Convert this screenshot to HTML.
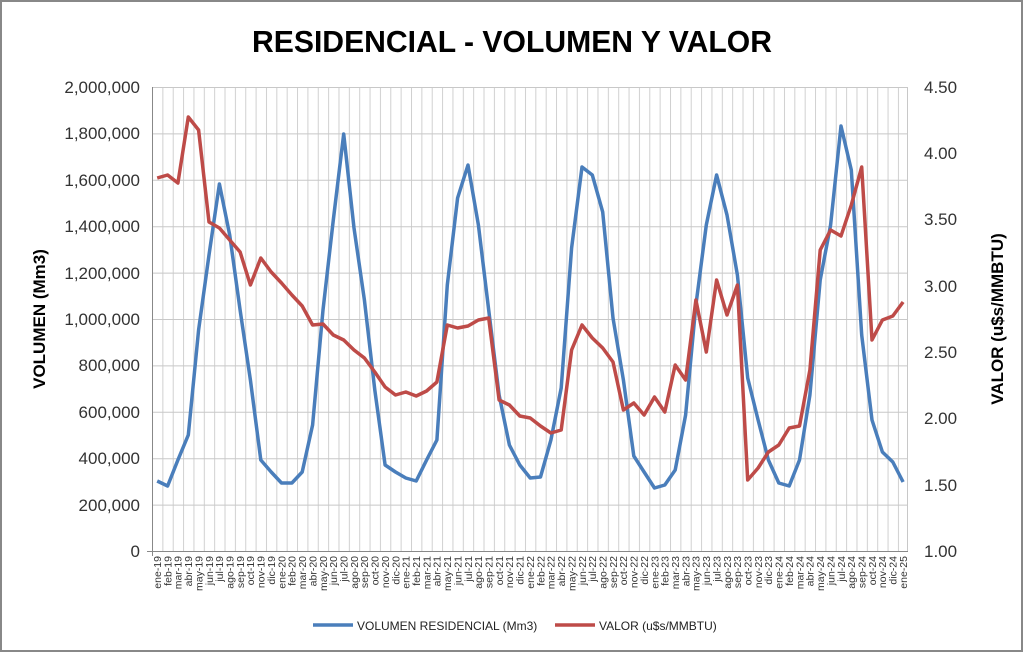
<!DOCTYPE html>
<html><head><meta charset="utf-8"><style>
html,body{margin:0;padding:0;background:#fff}
svg{display:block;font-family:"Liberation Sans",sans-serif}
</style></head><body>
<svg width="1023" height="652" viewBox="0 0 1023 652" xmlns="http://www.w3.org/2000/svg">
<defs>
<pattern id="vg" patternUnits="userSpaceOnUse" x="152" y="0" width="10.36" height="652">
<line x1="0.5" y1="0" x2="0.5" y2="652" stroke="#d0d0d0" stroke-width="1"/>
</pattern>
</defs>
<rect x="1" y="1" width="1021" height="650" fill="#fff" stroke="#888" stroke-width="2"/>
<text x="252" y="52" textLength="520" lengthAdjust="spacingAndGlyphs" font-size="31" font-weight="bold" fill="#000">RESIDENCIAL - VOLUMEN Y VALOR</text>
<rect x="152" y="87" width="756" height="464" fill="url(#vg)"/>
<g stroke="#c8c8c8" stroke-width="1">
<line x1="152" y1="87.5" x2="908" y2="87.5"/>
<line x1="152" y1="133.9" x2="908" y2="133.9"/>
<line x1="152" y1="180.3" x2="908" y2="180.3"/>
<line x1="152" y1="226.7" x2="908" y2="226.7"/>
<line x1="152" y1="273.1" x2="908" y2="273.1"/>
<line x1="152" y1="319.5" x2="908" y2="319.5"/>
<line x1="152" y1="365.9" x2="908" y2="365.9"/>
<line x1="152" y1="412.3" x2="908" y2="412.3"/>
<line x1="152" y1="458.7" x2="908" y2="458.7"/>
<line x1="152" y1="505.1" x2="908" y2="505.1"/>
<line x1="907.5" y1="87" x2="907.5" y2="551"/>
</g>
<line x1="152.5" y1="87" x2="152.5" y2="556" stroke="#888"/>
<line x1="147" y1="551.5" x2="908" y2="551.5" stroke="#888"/>
<g font-size="17" fill="#333" text-anchor="end">
<text x="140" y="93">2,000,000</text><text x="140" y="139">1,800,000</text><text x="140" y="186">1,600,000</text><text x="140" y="232">1,400,000</text><text x="140" y="279">1,200,000</text><text x="140" y="325">1,000,000</text><text x="140" y="371">800,000</text><text x="140" y="418">600,000</text><text x="140" y="464">400,000</text><text x="140" y="511">200,000</text><text x="140" y="557">0</text>
</g>
<g font-size="17" fill="#333" text-anchor="start">
<text x="924" y="93">4.50</text><text x="924" y="159">4.00</text><text x="924" y="225">3.50</text><text x="924" y="292">3.00</text><text x="924" y="358">2.50</text><text x="924" y="424">2.00</text><text x="924" y="491">1.50</text><text x="924" y="557">1.00</text>
</g>
<text transform="translate(45,319) rotate(-90)" text-anchor="middle" font-size="17" font-weight="bold">VOLUMEN (Mm3)</text>
<text transform="translate(1003,319) rotate(-90)" text-anchor="middle" font-size="17" font-weight="bold">VALOR (u$s/MMBTU)</text>
<g font-size="10.5" fill="#333" text-anchor="end">
<text transform="translate(161,556) rotate(-90)">ene-19</text><text transform="translate(171.4,556) rotate(-90)">feb-19</text><text transform="translate(181.7,556) rotate(-90)">mar-19</text><text transform="translate(192.1,556) rotate(-90)">abr-19</text><text transform="translate(202.4,556) rotate(-90)">may-19</text><text transform="translate(212.8,556) rotate(-90)">jun-19</text><text transform="translate(223.2,556) rotate(-90)">jul-19</text><text transform="translate(233.5,556) rotate(-90)">ago-19</text><text transform="translate(243.9,556) rotate(-90)">sep-19</text><text transform="translate(254.2,556) rotate(-90)">oct-19</text><text transform="translate(264.6,556) rotate(-90)">nov-19</text><text transform="translate(275,556) rotate(-90)">dic-19</text>
<text transform="translate(285.3,556) rotate(-90)">ene-20</text><text transform="translate(295.7,556) rotate(-90)">feb-20</text><text transform="translate(306,556) rotate(-90)">mar-20</text><text transform="translate(316.4,556) rotate(-90)">abr-20</text><text transform="translate(326.8,556) rotate(-90)">may-20</text><text transform="translate(337.1,556) rotate(-90)">jun-20</text><text transform="translate(347.5,556) rotate(-90)">jul-20</text><text transform="translate(357.8,556) rotate(-90)">ago-20</text><text transform="translate(368.2,556) rotate(-90)">sep-20</text><text transform="translate(378.6,556) rotate(-90)">oct-20</text><text transform="translate(388.9,556) rotate(-90)">nov-20</text><text transform="translate(399.3,556) rotate(-90)">dic-20</text>
<text transform="translate(409.6,556) rotate(-90)">ene-21</text><text transform="translate(420,556) rotate(-90)">feb-21</text><text transform="translate(430.4,556) rotate(-90)">mar-21</text><text transform="translate(440.7,556) rotate(-90)">abr-21</text><text transform="translate(451.1,556) rotate(-90)">may-21</text><text transform="translate(461.4,556) rotate(-90)">jun-21</text><text transform="translate(471.8,556) rotate(-90)">jul-21</text><text transform="translate(482.2,556) rotate(-90)">ago-21</text><text transform="translate(492.5,556) rotate(-90)">sep-21</text><text transform="translate(502.9,556) rotate(-90)">oct-21</text><text transform="translate(513.2,556) rotate(-90)">nov-21</text><text transform="translate(523.6,556) rotate(-90)">dic-21</text>
<text transform="translate(534,556) rotate(-90)">ene-22</text><text transform="translate(544.3,556) rotate(-90)">feb-22</text><text transform="translate(554.7,556) rotate(-90)">mar-22</text><text transform="translate(565,556) rotate(-90)">abr-22</text><text transform="translate(575.4,556) rotate(-90)">may-22</text><text transform="translate(585.8,556) rotate(-90)">jun-22</text><text transform="translate(596.1,556) rotate(-90)">jul-22</text><text transform="translate(606.5,556) rotate(-90)">ago-22</text><text transform="translate(616.8,556) rotate(-90)">sep-22</text><text transform="translate(627.2,556) rotate(-90)">oct-22</text><text transform="translate(637.6,556) rotate(-90)">nov-22</text><text transform="translate(647.9,556) rotate(-90)">dic-22</text>
<text transform="translate(658.3,556) rotate(-90)">ene-23</text><text transform="translate(668.6,556) rotate(-90)">feb-23</text><text transform="translate(679,556) rotate(-90)">mar-23</text><text transform="translate(689.4,556) rotate(-90)">abr-23</text><text transform="translate(699.7,556) rotate(-90)">may-23</text><text transform="translate(710.1,556) rotate(-90)">jun-23</text><text transform="translate(720.4,556) rotate(-90)">jul-23</text><text transform="translate(730.8,556) rotate(-90)">ago-23</text><text transform="translate(741.2,556) rotate(-90)">sep-23</text><text transform="translate(751.5,556) rotate(-90)">oct-23</text><text transform="translate(761.9,556) rotate(-90)">nov-23</text><text transform="translate(772.2,556) rotate(-90)">dic-23</text>
<text transform="translate(782.6,556) rotate(-90)">ene-24</text><text transform="translate(793,556) rotate(-90)">feb-24</text><text transform="translate(803.3,556) rotate(-90)">mar-24</text><text transform="translate(813.7,556) rotate(-90)">abr-24</text><text transform="translate(824,556) rotate(-90)">may-24</text><text transform="translate(834.4,556) rotate(-90)">jun-24</text><text transform="translate(844.8,556) rotate(-90)">jul-24</text><text transform="translate(855.1,556) rotate(-90)">ago-24</text><text transform="translate(865.5,556) rotate(-90)">sep-24</text><text transform="translate(875.8,556) rotate(-90)">oct-24</text><text transform="translate(886.2,556) rotate(-90)">nov-24</text><text transform="translate(896.6,556) rotate(-90)">dic-24</text>
<text transform="translate(906.9,556) rotate(-90)">ene-25</text>
</g>
<polyline fill="none" stroke="#4a7ebb" stroke-width="3.5" stroke-linejoin="round" points="157.2,481 167.6,486 177.9,460 188.3,435 198.6,330 209,255 219.4,184 229.7,235 240.1,310 250.4,380 260.8,460 271.2,472 281.5,483 291.9,483 302.2,472 312.6,425 323,310 333.3,220 343.7,134 354,228 364.4,300 374.8,390 385.1,465 395.5,472 405.8,478 416.2,481 426.6,460 436.9,440 447.3,285 457.6,198 468,165 478.4,225 488.7,310 499.1,395 509.4,445 519.8,465 530.2,478 540.5,477 550.9,440 561.2,388 571.6,248 582,167 592.3,175 602.7,212 613,318 623.4,380 633.8,456 644.1,472 654.5,488 664.8,485 675.2,470 685.6,415 695.9,305 706.3,225 716.6,175 727,215 737.4,275 747.7,378 758.1,420 768.4,460 778.8,483 789.2,486 799.5,460 809.9,395 820.2,280 830.6,225 841,126 851.3,170 861.7,335 872,420 882.4,452 892.8,462 903.1,482"/>
<polyline fill="none" stroke="#be4b48" stroke-width="3.5" stroke-linejoin="round" points="157.2,178 167.6,175 177.9,183 188.3,117 198.6,130 209,222 219.4,228 229.7,240 240.1,252 250.4,285 260.8,258 271.2,272 281.5,283 291.9,295 302.2,306 312.6,325 323,324 333.3,335 343.7,340 354,350 364.4,358 374.8,372 385.1,387 395.5,395 405.8,392 416.2,396 426.6,391 436.9,382 447.3,325 457.6,328 468,326 478.4,320 488.7,318 499.1,400 509.4,405 519.8,416 530.2,418 540.5,426 550.9,433 561.2,430 571.6,350 582,325 592.3,338 602.7,348 613,362 623.4,410 633.8,403 644.1,415 654.5,397 664.8,412 675.2,365 685.6,380 695.9,300 706.3,352 716.6,280 727,315 737.4,285 747.7,480 758.1,468 768.4,452 778.8,445 789.2,428 799.5,426 809.9,370 820.2,250 830.6,230 841,236 851.3,205 861.7,167 872,340 882.4,320 892.8,316 903.1,302"/>
<line x1="313" y1="625" x2="353" y2="625" stroke="#4a7ebb" stroke-width="3.5"/>
<text x="357" y="630" font-size="12" fill="#222">VOLUMEN RESIDENCIAL (Mm3)</text>
<line x1="555" y1="625" x2="595" y2="625" stroke="#be4b48" stroke-width="3.5"/>
<text x="599" y="630" font-size="12" fill="#222">VALOR (u$s/MMBTU)</text>
</svg>
</body></html>
